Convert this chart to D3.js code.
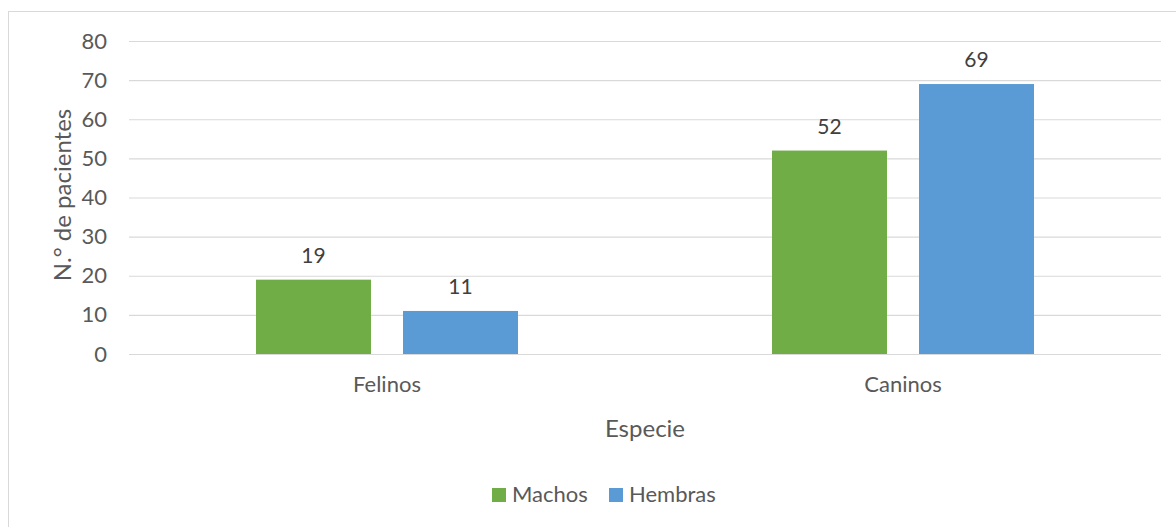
<!DOCTYPE html>
<html><head><meta charset="utf-8">
<script src="https://cdn.jsdelivr.net/npm/d3@7"></script>
<style>html,body{margin:0;padding:0;background:#fff;} svg{display:block;font-family:Lato,"Open Sans",sans-serif;}</style>
</head><body>
<svg id="c" width="1176" height="527"></svg>
<script>
const categories = ["Felinos", "Caninos"];
const series = ["Machos", "Hembras"];
const machos = [19, 52];
const hembras = [11, 69];
const yTicks = [0, 10, 20, 30, 40, 50, 60, 70, 80];
const colors = ["#70AD47", "#5B9BD5"];
const values = [machos, hembras];

(function () {
const FONT = "Lato";
const svg = d3.select("#c");
svg.append("rect").attr("x", 8.5).attr("y", 11.5).attr("width", 1180).attr("height", 530)
  .attr("fill", "#fff").attr("stroke", "#D9D9D9").attr("stroke-width", 1);

const mLeft = 129, mRight = 1161, mTop = 41, mBottom = 354;
const x0 = d3.scaleBand().domain(categories).range([mLeft, mRight]).padding(0);
const x1 = d3.scaleBand().domain(series).range([-131, 131]).paddingInner(0.2177).paddingOuter(0);
const y = d3.scaleLinear().domain([0, 80]).range([mBottom, mTop]);

// gridlines
const yAxis = d3.axisLeft(y).tickValues(yTicks).tickSize(-(mRight - mLeft)).tickPadding(22).tickFormat(d3.format("d"));
const ga = svg.append("g").attr("transform", `translate(${mLeft},0)`).call(yAxis);
ga.select(".domain").remove();
ga.selectAll(".tick line").attr("stroke", "#D9D9D9").attr("stroke-width", 1.2);
ga.selectAll(".tick text").attr("fill", "#595959").style("font-size", "22px").attr("font-family", FONT);

// bars
const g = svg.append("g");
categories.forEach((c, i) => {
  series.forEach((s, j) => {
    const v = values[j][i];
    const cx = x0(c) + x0.bandwidth() / 2;
    g.append("rect")
      .attr("x", cx + x1(s)).attr("width", x1.bandwidth())
      .attr("y", y(v)).attr("height", y(0) - y(v))
      .attr("fill", colors[j]);
    g.append("text")
      .attr("x", cx + x1(s) + x1.bandwidth() / 2).attr("y", y(v) - 17)
      .attr("text-anchor", "middle").attr("fill", "#404040").style("font-size", "21px")
      .text(v);
  });
});

// x axis category labels
const xAxis = d3.axisBottom(x0).tickSize(0).tickPadding(22);
const gx = svg.append("g").attr("transform", `translate(0,${mBottom})`).call(xAxis);
gx.select(".domain").remove();
gx.selectAll(".tick text").attr("fill", "#595959").style("font-size", "22px").attr("font-family", FONT);

// axis titles
svg.append("text").attr("x", 645).attr("y", 437).attr("text-anchor", "middle")
  .attr("fill", "#595959").style("font-size", "24px").text("Especie");
svg.append("text").attr("transform", `translate(71,195) rotate(-90)`)
  .attr("text-anchor", "middle").attr("fill", "#595959").style("font-size", "24px").text("N.° de pacientes");

// legend
const legend = svg.append("g");
const lx = [492, 609];
series.forEach((s, j) => {
  legend.append("rect").attr("x", lx[j]).attr("y", 488).attr("width", 14).attr("height", 14).attr("fill", colors[j]);
  legend.append("text").attr("x", lx[j] + 20).attr("y", 502).attr("fill", "#595959").style("font-size", "22px").text(s);
});
})();
</script>
</body></html>
